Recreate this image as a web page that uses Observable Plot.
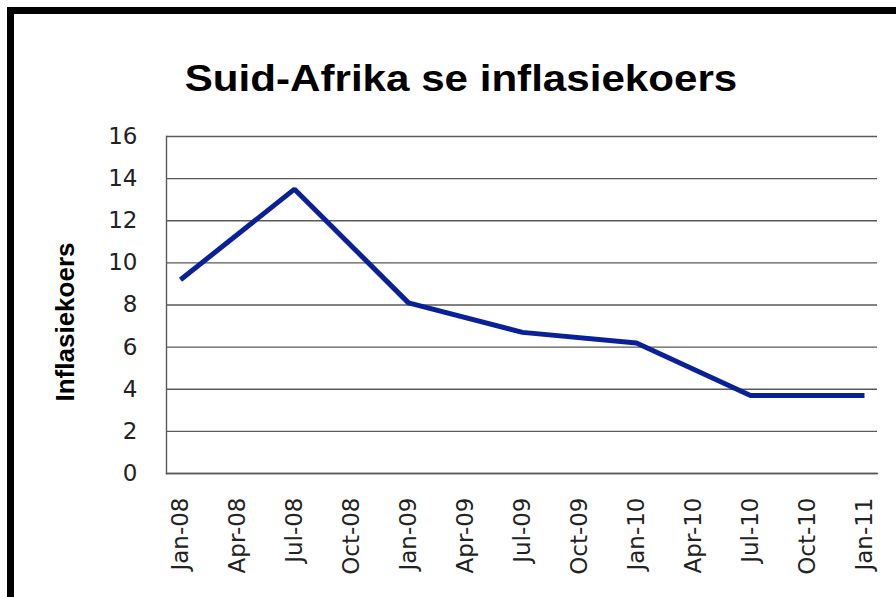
<!DOCTYPE html>
<html>
<head>
<meta charset="utf-8">
<script src="https://cdn.jsdelivr.net/npm/d3@7"></script>
<script src="https://cdn.jsdelivr.net/npm/@observablehq/plot@0.6"></script>
<style>
  html, body { margin: 0; padding: 0; background: #fff; }
  #wrap { position: relative; width: 896px; height: 597px; overflow: hidden; background: #fff; }
  #border { position: absolute; left: 7px; top: 7px; width: 960px; height: 640px;
            border-left: 7px solid #000; border-top: 7px solid #000; box-sizing: border-box; }
  #title { position: absolute; left: 461px; top: 61px; white-space: nowrap;
           font-family: "Liberation Sans", Arial, sans-serif; font-weight: bold; font-size: 36px;
           line-height: 36px; color: #000; transform: translateX(-50%) scaleX(1.17); transform-origin: center; }
  #chart { position: absolute; left: 0; top: 0; }
</style>
</head>
<body>
<div id="wrap">
  <div id="chart"></div>
  <div id="border"></div>
  <div id="title">Suid-Afrika se inflasiekoers</div>
</div>
<script>
// Tick labels along the date axis (quarterly)
const tickLabels = ["Jan-08","Apr-08","Jul-08","Oct-08","Jan-09","Apr-09","Jul-09","Oct-09","Jan-10","Apr-10","Jul-10","Oct-10","Jan-11"];
// Observations (semi-annual)
const months = ["Jan-08","Jul-08","Jan-09","Jul-09","Jan-10","Jul-10","Jan-11"];
const rates = [9.2, 13.5, 8.1, 6.7, 6.2, 3.7, 3.7];
const yTicks = [0, 2, 4, 6, 8, 10, 12, 14, 16];
const yLabel = "Inflasiekoers";

const data = months.map((m, i) => ({month: m, rate: rates[i]}));

const chart = Plot.plot({
  width: 896,
  height: 597,
  marginLeft: 166,
  marginRight: 19,
  marginTop: 136,
  marginBottom: 124,
  style: {fontFamily: "'DejaVu Sans', Verdana, sans-serif", background: "transparent", overflow: "visible"},
  x: {type: "point", domain: tickLabels, padding: 0.19},
  y: {domain: [0, 16]},
  marks: [
    Plot.gridY(yTicks, {stroke: "#595959", strokeOpacity: 1, strokeWidth: 1.4}),
    Plot.frame({anchor: "left", stroke: "#595959", strokeWidth: 1.4}),
    Plot.frame({anchor: "bottom", stroke: "#595959", strokeWidth: 1.4}),
    Plot.axisY(yTicks, {tickSize: 0, tickPadding: 29, fontSize: 23, fill: "#222", label: null}),
    Plot.axisX({tickRotate: -90, tickSize: 0, tickPadding: 24, fontSize: 23, fill: "#222", label: null}),
    Plot.line(data, {x: "month", y: "rate", stroke: "#0a2099", strokeWidth: 5, strokeLinejoin: "miter", strokeLinecap: "butt"}),
    Plot.text([yLabel], {frameAnchor: "left", text: d => d, rotate: -90, dx: -101, dy: 17,
      fontSize: 26, fontWeight: "bold", fontFamily: "'Liberation Sans', Arial, sans-serif", fill: "#000", textAnchor: "middle"})
  ]
});
document.getElementById("chart").appendChild(chart);
</script>
</body>
</html>
